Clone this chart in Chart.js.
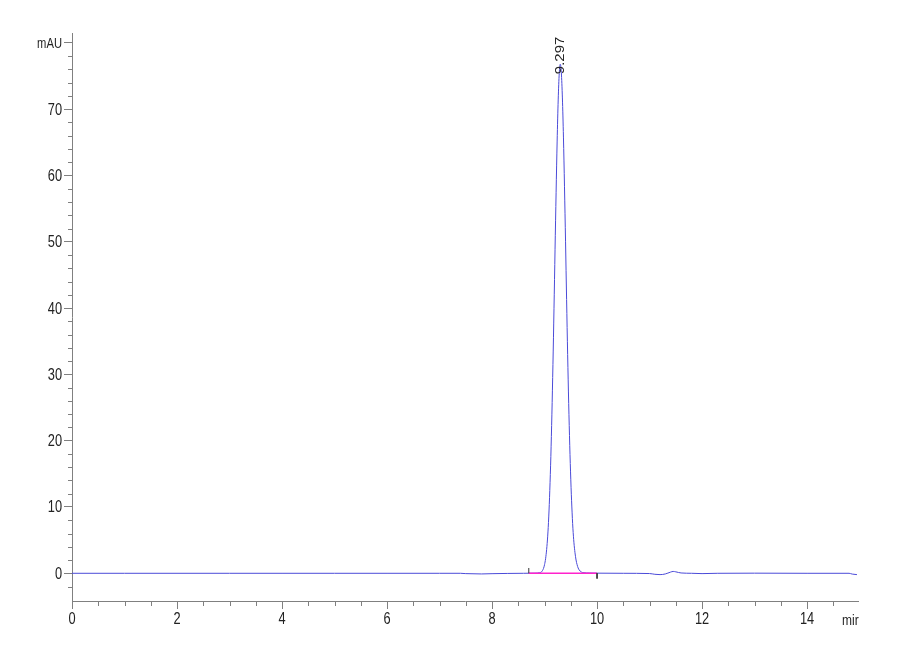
<!DOCTYPE html>
<html>
<head>
<meta charset="utf-8">
<script src="https://cdn.jsdelivr.net/npm/chart.js@4.4.1/dist/chart.umd.min.js"></script>
<style>
  body { margin: 0; background: #fff; }
  canvas { display: block; }
</style>
</head>
<body>
<canvas id="grafica" width="900" height="660"></canvas>
<script>
// retention time (min) and signal (mAU)
const tiempos = [0, 1, 2, 3, 4, 5, 6, 7, 7.4, 7.5, 7.8, 8.0, 8.3, 8.6, 8.8, 8.86, 8.9, 8.94, 8.98,
    9.0, 9.02, 9.04, 9.06, 9.08, 9.10, 9.12, 9.14, 9.16, 9.18, 9.20, 9.22, 9.24, 9.26, 9.28,
    9.30, 9.32, 9.34, 9.36, 9.38, 9.40, 9.42, 9.44, 9.46, 9.48, 9.50, 9.52, 9.54, 9.56, 9.58,
    9.60, 9.62, 9.64, 9.66, 9.70, 9.75, 9.85, 10.0, 10.5, 11.0, 11.1, 11.2, 11.3, 11.4, 11.45,
    11.5, 11.6, 11.8, 12.0, 12.3, 13.0, 14.0, 14.8, 14.86, 14.95];
const senal = [0, 0, 0, 0, 0, 0, 0, 0, 0, -0.05, -0.1, -0.06, -0.02, 0, 0.02, 0.03, 0.08, 0.2, 0.73,
    1.3, 2.2, 3.6, 5.6, 8.5, 12.5, 17.6, 24.0, 31.5, 39.9, 48.8, 57.4, 65.2, 71.4, 75.4,
    76.8, 75.5, 71.7, 65.8, 58.3, 50.0, 41.3, 33.0, 25.6, 19.3, 14.1, 10.0, 6.8, 4.6, 3.1,
    2.0, 1.3, 0.8, 0.5, 0.2, 0.08, 0.04, 0.02, 0, -0.04, -0.15, -0.2, -0.1, 0.18, 0.28,
    0.22, 0.05, 0, -0.05, 0, 0.02, 0, 0, -0.12, -0.2];

// integration baseline and its start / end marks
const lineaBase = [8.7, 10.0];
const marcaInicio = [0, 0.8];
const marcaFin = [0, -0.8];

const picoTiempo = 9.297;
const picoAltura = 76.8;

const ticksX = [0, 2, 4, 6, 8, 10, 12, 14];
const ticksY = [0, 10, 20, 30, 40, 50, 60, 70, 80];
const menoresX = [0.5, 1, 1.5, 2.5, 3, 3.5, 4.5, 5, 5.5, 6.5, 7, 7.5, 8.5, 9, 9.5, 10.5, 11, 11.5, 12.5, 13, 13.5, 14.5];
const menoresY = [-2, 2, 4, 6, 8, 12, 14, 16, 18, 22, 24, 26, 28, 32, 34, 36, 38, 42, 44, 46, 48, 52, 54, 56, 58, 62, 64, 66, 68, 72, 74, 76, 78];

const gris = "#808080";
const texto = "#222";
const fuente = "'Liberation Sans', Arial, sans-serif";
const estrecho = 0.8;

const traza = tiempos.map((t, i) => ({ x: t, y: senal[i] }));

// narrow text, like the squeezed labels of the original
function textoEstrecho(ctx, txt, x, y, align, base, size) {
    ctx.save();
    ctx.translate(x, y);
    ctx.scale(estrecho, 1);
    ctx.font = size + "px " + fuente;
    ctx.textAlign = align;
    ctx.textBaseline = base;
    ctx.fillText(txt, 0, 0);
    ctx.restore();
}

// minor ticks, tick labels, the "mir" unit label and the rotated peak label
const extras = {
    id: "extras",
    afterDraw(chart) {
        const ctx = chart.ctx;
        const x = chart.scales.x;
        const y = chart.scales.y;
        ctx.save();
        ctx.strokeStyle = gris;
        ctx.lineWidth = 1;
        ctx.beginPath();
        menoresX.forEach(v => {
            const px = Math.round(x.getPixelForValue(v)) + 0.5;
            ctx.moveTo(px, y.bottom);
            ctx.lineTo(px, y.bottom + 5);
        });
        menoresY.forEach(v => {
            const py = Math.round(y.getPixelForValue(v)) + 0.5;
            ctx.moveTo(x.left - 4, py);
            ctx.lineTo(x.left, py);
        });
        ctx.stroke();

        ctx.fillStyle = texto;
        ticksY.forEach(v => {
            const py = y.getPixelForValue(v);
            if (v === 80) {
                textoEstrecho(ctx, "mAU", x.left - 10, py + 1, "right", "middle", 14);
            } else {
                textoEstrecho(ctx, String(v), x.left - 10, py + 1, "right", "middle", 16);
            }
        });
        ticksX.forEach(v => {
            textoEstrecho(ctx, String(v), x.getPixelForValue(v), y.bottom + 11, "center", "top", 16);
        });
        textoEstrecho(ctx, "mir", x.right - 16, y.bottom + 12, "left", "top", 15);

        const px = x.getPixelForValue(picoTiempo) + 1;
        const py = y.getPixelForValue(picoAltura) + 10;
        ctx.translate(px, py);
        ctx.rotate(-Math.PI / 2);
        ctx.scale(1, estrecho);
        ctx.font = "15px " + fuente;
        ctx.textAlign = "left";
        ctx.textBaseline = "middle";
        ctx.fillText(picoTiempo.toFixed(3), 0, 0);
        ctx.restore();
    }
};

const config = {
    type: "line",
    data: {
        datasets: [
            {
                label: "Señal",
                data: traza,
                borderColor: "#4a4ad8",
                borderWidth: 1,
                pointRadius: 0,
                cubicInterpolationMode: "monotone",
                order: 2
            },
            {
                label: "Base",
                data: lineaBase.map(t => ({ x: t, y: 0 })),
                borderColor: "#ff22cc",
                borderWidth: 1.5,
                pointRadius: 0,
                order: 1
            },
            {
                label: "Inicio",
                data: marcaInicio.map(v => ({ x: lineaBase[0], y: v })),
                borderColor: "#333",
                borderWidth: 1,
                pointRadius: 0,
                order: 0
            },
            {
                label: "Fin",
                data: marcaFin.map(v => ({ x: lineaBase[1], y: v })),
                borderColor: "#333",
                borderWidth: 1,
                pointRadius: 0,
                order: 0
            }
        ]
    },
    plugins: [extras],
    options: {
        responsive: false,
        animation: false,
        layout: { padding: { left: 0, right: 42, top: 33, bottom: 0 } },
        plugins: {
            legend: { display: false },
            tooltip: { enabled: false }
        },
        scales: {
            x: {
                type: "linear",
                min: 0,
                max: 14.97,
                border: { color: gris, width: 1 },
                grid: { drawOnChartArea: false, drawTicks: true, tickLength: 8, color: gris },
                ticks: { display: false },
                afterBuildTicks(scale) { scale.ticks = ticksX.map(v => ({ value: v })); },
                afterFit(scale) { scale.height = 59; }
            },
            y: {
                type: "linear",
                min: -4.18,
                max: 81.5,
                border: { color: gris, width: 1 },
                grid: { drawOnChartArea: false, drawTicks: true, tickLength: 8, color: gris },
                ticks: { display: false },
                afterBuildTicks(scale) { scale.ticks = ticksY.map(v => ({ value: v })); },
                afterFit(scale) { scale.width = 72; }
            }
        }
    }
};

const ctx = document.getElementById("grafica");
const cromatograma = new Chart(ctx, config);
</script>
</body>
</html>
